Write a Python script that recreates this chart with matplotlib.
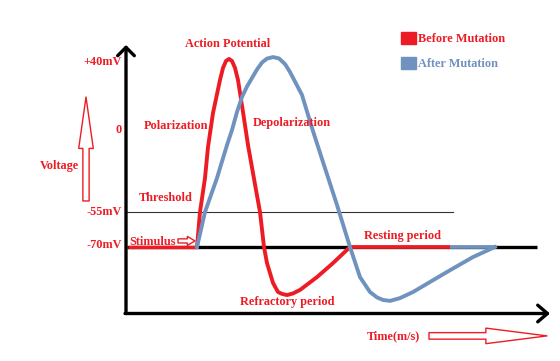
import numpy as np
import matplotlib
matplotlib.use('Agg')
import matplotlib.pyplot as plt
from matplotlib.patches import Patch

RED = '#ed1c24'
BLUE = '#7092be'

# voltage axis is hand drawn, so the tick spacing is uneven
tick_mv = [-70, -55, 0, 40]
tick_labels = ['-70mV', '-55mV', '0', '+40mV']
tick_px = [247, 212, 130, 62]          # where each tick sits in the drawing

# before mutation (time, mV)
red_t = [7.0, 7.3, 7.8, 8.1, 8.6, 9.3, 9.6, 9.9, 10.2, 10.5, 10.8, 11.1, 11.6, 12.1, 12.9,
         13.3, 13.7, 14.0, 14.6, 15.1, 15.5, 16.0, 16.6, 17.3, 19.0, 20.6, 22.3]
red_mv = [-70, -55, -32.2, -11.4, 10.0, 29.4, 36.5, 40.6, 41.8, 40.6, 36.5, 29.4, 10.6, -10.1, -40.2,
          -55, -70, -76.9, -85.4, -89.3, -90.1, -90.6, -89.9, -88.4, -82.9, -76.9, -70]

# after mutation (time, mV)
blue_t = [7.0, 7.8, 9.0, 10.0, 10.5, 11.0, 11.5, 12.0, 12.5, 13.0, 13.5, 14.0, 14.6, 15.2, 15.8,
          16.3, 17.5, 18.5, 19.6, 21.0, 22.3, 23.3, 24.3, 25.0, 25.6, 26.3, 27.3, 28.6,
          32.0, 34.6, 36.8]
blue_mv = [-70, -55, -32.2, -10.1, 0, 10.6, 19.4, 25.6, 30.6, 35.6, 39.7, 42.0, 42.9, 42.1, 38.8,
           34.1, 20.6, 1.2, -21.5, -50.3, -70, -82.9, -89.3, -91.6, -92.7, -93.1, -91.9, -89.3,
           -80.7, -74.3, -70]

rest_mv = -70
threshold_mv = -55
stimulus_t = 7.0
red_rest = (22.3, 32.3)
blue_rest = (32.3, 36.8)
baseline_end = 41.0
threshold_end = 32.6

# piecewise scale: mV -> drawing position
mv_pts = [-300] + tick_mv + [300]
px_pts = [247 + 230 * 35 / 15] + tick_px + [62 - 260 * 1.7]
neg_px = [-p for p in px_pts]


def forward(v):
    return -np.interp(v, mv_pts, px_pts)


def inverse(u):
    return np.interp(u, neg_px[::-1], mv_pts[::-1])


plt.rcParams['font.family'] = 'Liberation Serif'
plt.rcParams['font.weight'] = 'bold'

fig = plt.figure(figsize=(5.6, 3.61), dpi=100)
ax = fig.add_axes([0, 0, 1, 1])
ax.set_yscale('function', functions=(forward, inverse))
ax.set_xlim(-12.7, 43.3)
ax.set_ylim(-118.86, 76.47)
ax.axis('off')

fs = 8.8

# axes arrows
ax.annotate('', xy=(-0.1, 50), xytext=(-0.1, -98.5),
            arrowprops=dict(arrowstyle='->,head_length=0.6,head_width=0.6',
                            lw=2.4, color='black', shrinkA=0, shrinkB=0,
                            mutation_scale=10))
ax.annotate('', xy=(42.3, -98.5), xytext=(-0.2, -98.5),
            arrowprops=dict(arrowstyle='->,head_length=0.7,head_width=0.6',
                            lw=2.4, color='black', shrinkA=0, shrinkB=0,
                            mutation_scale=10))

# threshold and resting lines
ax.plot([0, threshold_end], [threshold_mv, threshold_mv], color='#333333', lw=0.8)
ax.plot([0, baseline_end], [rest_mv, rest_mv], color='black', lw=2.4, solid_capstyle='butt')
ax.plot([0.1, stimulus_t], [rest_mv, rest_mv], color=RED, lw=2.4, solid_capstyle='butt')
ax.plot(red_rest, [rest_mv, rest_mv], color=RED, lw=2.7, solid_capstyle='butt')
ax.plot(blue_rest, [rest_mv, rest_mv], color=BLUE, lw=2.7, solid_capstyle='butt')

ax.plot(red_t, red_mv, color=RED, lw=2.8, solid_joinstyle='round')
ax.plot(blue_t, blue_mv, color=BLUE, lw=2.8, solid_joinstyle='round')

# voltage ticks
for v, lab in zip(tick_mv, tick_labels):
    ax.text(-0.5, v + (0.8 if v == -70 else 0), lab, ha='right', va='center',
            color=RED, fontsize=fs)

txt = dict(color=RED, fontsize=fs, ha='center', va='center')
ax.text(10.1, 50.6, 'Action Potential', **txt)
ax.text(4.95, 2.4, 'Polarization', **txt)
ax.text(16.5, 4.1, 'Depolarization', **txt)
ax.text(3.9, -45.6, 'Threshold', **txt)
ax.text(2.6, -67.9, 'Stimulus', **txt)
ax.text(27.5, -65.1, 'Resting period', **txt)
ax.text(16.0, -93.6, 'Refractory period', **txt)
ax.text(26.6, -108.1, 'Time(m/s)', **txt)
ax.text(-6.75, -24.1, 'Voltage', **txt)

# hollow arrows
ax.annotate('', xy=(-4.1, 19.4), xytext=(-4.1, -47.6),
            arrowprops=dict(arrowstyle='simple,head_length=3.7,head_width=1.05,tail_width=0.45',
                            fc='white', ec=RED, lw=1, shrinkA=0, shrinkB=0,
                            mutation_scale=10))
ax.annotate('', xy=(42.0, -108.1), xytext=(30.2, -108.1),
            arrowprops=dict(arrowstyle='simple,head_length=4.4,head_width=1.12,tail_width=0.47',
                            fc='white', ec=RED, lw=1, shrinkA=0, shrinkB=0,
                            mutation_scale=10))
ax.annotate('', xy=(6.8, -67.4), xytext=(5.1, -67.4),
            arrowprops=dict(arrowstyle='simple,head_length=0.55,head_width=0.65,tail_width=0.3',
                            fc='white', ec=RED, lw=1, shrinkA=0, shrinkB=0,
                            mutation_scale=10))

handles = [Patch(facecolor=RED, edgecolor=RED), Patch(facecolor=BLUE, edgecolor=BLUE)]
leg = ax.legend(handles, ['Before Mutation', 'After Mutation'],
                loc='upper left', bbox_to_anchor=(401 / 560, 1 - 32 / 361),
                bbox_transform=fig.transFigure, frameon=False, borderpad=0,
                borderaxespad=0, handlelength=1.2, handleheight=1.15,
                handletextpad=0.2, labelspacing=0.95, prop=dict(size=fs, weight='bold'),
                labelcolor=[RED, BLUE])

fig.savefig('out.png', dpi=100)
